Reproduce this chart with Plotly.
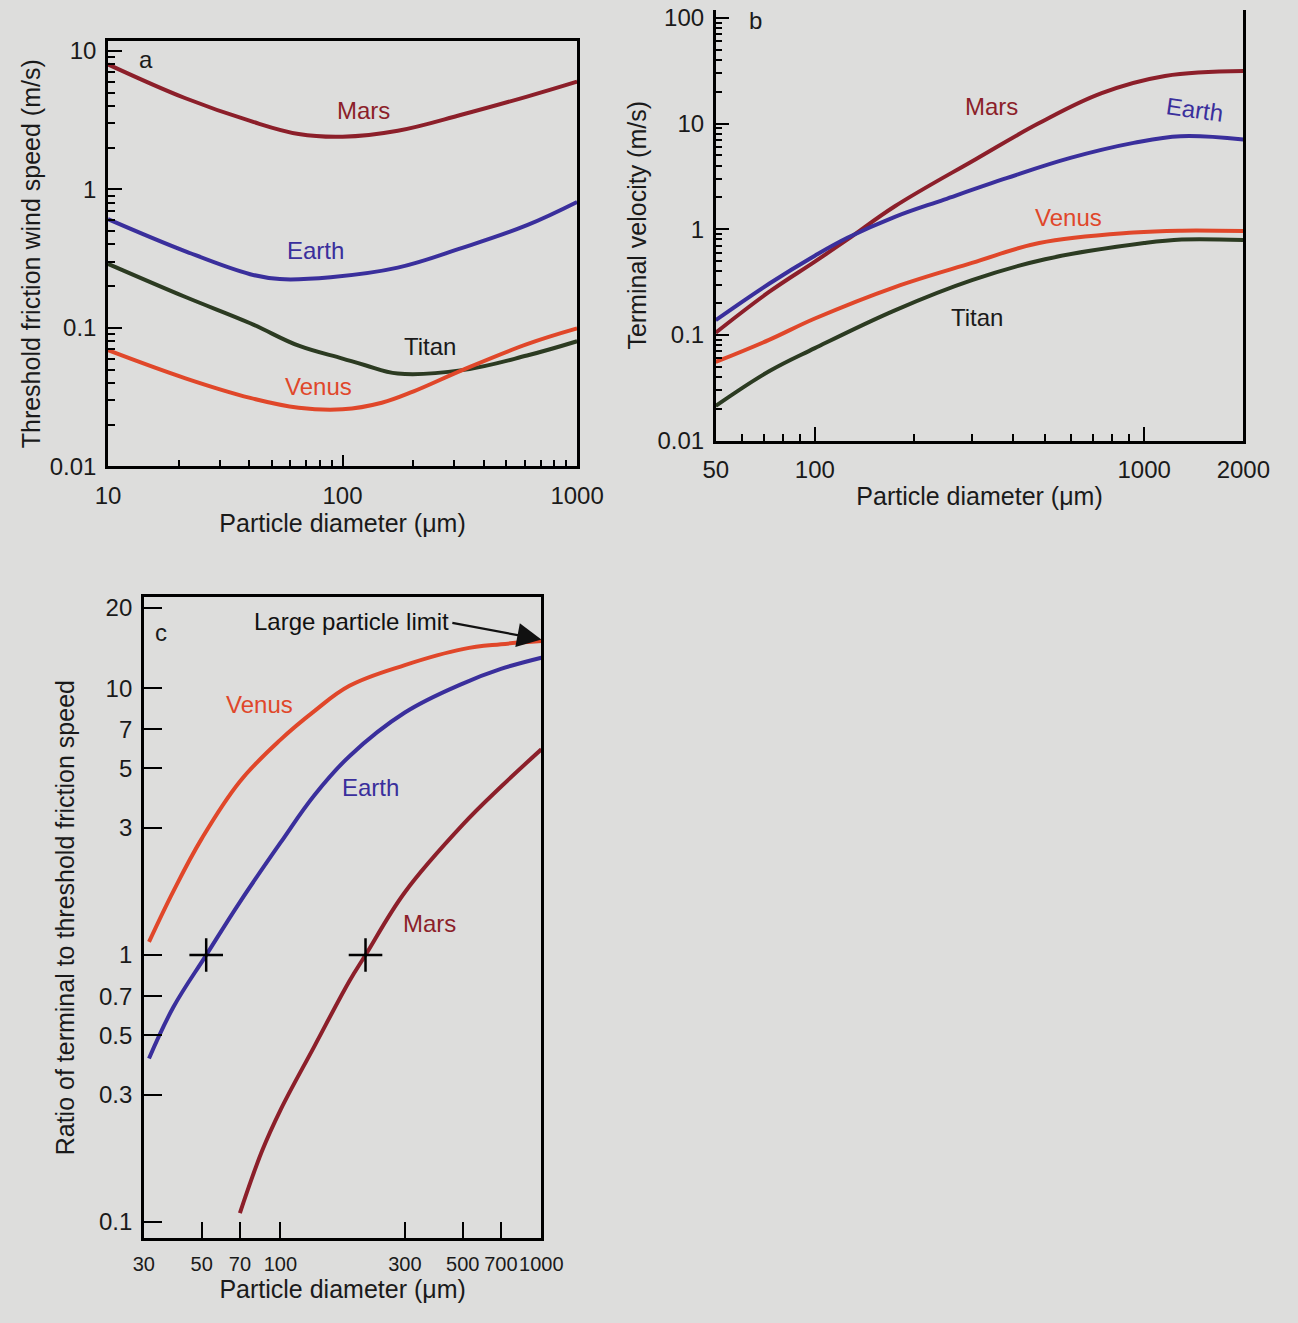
import numpy as np
import plotly.graph_objects as go

# ---------------- Panel a: threshold friction wind speed ----------------
a_mars_d = [10, 21.4, 40.4, 65, 100, 172, 324, 612, 1000]
a_mars_u = [8.0, 4.55, 3.12, 2.51, 2.4, 2.65, 3.47, 4.68, 6.0]
a_earth_d = [10, 21.4, 40.4, 54, 89, 172, 324, 612, 1000]
a_earth_u = [0.61, 0.357, 0.244, 0.225, 0.232, 0.272, 0.378, 0.551, 0.81]
a_titan_d = [10, 21.4, 40.4, 65, 100, 125, 172, 324, 612, 1000]
a_titan_u = [0.29, 0.167, 0.108, 0.0743, 0.060, 0.0537, 0.0468, 0.0495, 0.0631, 0.080]
a_venus_d = [10, 21.4, 40.4, 65, 100, 147, 201, 324, 612, 1000]
a_venus_u = [0.069, 0.0432, 0.0312, 0.0265, 0.0258, 0.0288, 0.0348, 0.0495, 0.0762, 0.099]

# ---------------- Panel b: terminal velocity ----------------
b_mars_d = [50, 72.6, 100, 126, 175, 308, 480, 743, 1157, 2000]
b_mars_v = [0.105, 0.255, 0.494, 0.805, 1.65, 4.6, 10.1, 19.4, 28.2, 31.4]
b_earth_d = [50, 72.6, 100, 126, 175, 247, 384, 597, 929, 1290, 2000]
b_earth_v = [0.138, 0.305, 0.562, 0.834, 1.31, 1.91, 3.06, 4.73, 6.56, 7.6, 7.07]
b_venus_d = [50, 72.6, 100, 175, 300, 480, 929, 1300, 2000]
b_venus_v = [0.0555, 0.0898, 0.143, 0.284, 0.48, 0.74, 0.93, 0.97, 0.96]
b_titan_d = [50, 72.6, 100, 175, 300, 500, 1000, 1300, 2000]
b_titan_v = [0.0213, 0.0453, 0.075, 0.171, 0.33, 0.52, 0.74, 0.80, 0.79]

# ---------------- Panel c: ratio terminal / threshold ----------------
c_venus_d = [31.4, 39, 50, 70, 100, 135, 184, 300, 500, 700, 1000]
c_venus_r = [1.12, 1.74, 2.73, 4.47, 6.4, 8.2, 10.2, 12.2, 14.0, 14.6, 15.0]
c_earth_d = [31.4, 39, 52, 70, 100, 135, 184, 300, 500, 700, 1000]
c_earth_r = [0.41, 0.64, 1.0, 1.58, 2.63, 3.97, 5.56, 8.1, 10.4, 11.8, 13.0]
c_mars_d = [70, 85, 100, 135, 184, 212, 300, 500, 700, 1000]
c_mars_r = [0.108, 0.184, 0.262, 0.455, 0.80, 1.0, 1.72, 3.08, 4.27, 5.9]
c_cross_d = [52, 212]
c_cross_r = [1, 1]
c_limit = 15.2

# tick labels
a_xticks = [10, 100, 1000]
a_yticks = [0.01, 0.1, 1, 10]
b_xticks = [50, 100, 1000, 2000]
b_yticks = [0.01, 0.1, 1, 10, 100]
c_xticks = [30, 50, 70, 100, 300, 500, 700, 1000]
c_yticks = [0.1, 0.3, 0.5, 0.7, 1, 3, 5, 7, 10, 20]

MARS = "#8c1f2a"
EARTH = "#3a2f9c"
TITAN = "#2c3b22"
VENUS = "#e0472a"
FONT = "Liberation Sans, Arial, sans-serif"
BG = "#dddddc"
INK = "#1a1a1a"

fig = go.Figure()


def line(x, y, color, xa, ya):
    fig.add_trace(go.Scatter(x=x, y=y, mode="lines",
                             line=dict(color=color, width=4, shape="spline", smoothing=1.1),
                             xaxis=xa, yaxis=ya, showlegend=False, hoverinfo="skip"))


line(a_mars_d, a_mars_u, MARS, "x", "y")
line(a_earth_d, a_earth_u, EARTH, "x", "y")
line(a_titan_d, a_titan_u, TITAN, "x", "y")
line(a_venus_d, a_venus_u, VENUS, "x", "y")

line(b_mars_d, b_mars_v, MARS, "x2", "y2")
line(b_earth_d, b_earth_v, EARTH, "x2", "y2")
line(b_venus_d, b_venus_v, VENUS, "x2", "y2")
line(b_titan_d, b_titan_v, TITAN, "x2", "y2")

line(c_venus_d, c_venus_r, VENUS, "x3", "y3")
line(c_earth_d, c_earth_r, EARTH, "x3", "y3")
line(c_mars_d, c_mars_r, MARS, "x3", "y3")
fig.add_trace(go.Scatter(x=c_cross_d, y=c_cross_r, mode="markers",
                         marker=dict(symbol="cross-thin", size=24, line=dict(color="black", width=2.5)),
                         xaxis="x3", yaxis="y3", showlegend=False, hoverinfo="skip"))


def minor_vals(lo, hi):
    out = []
    for dec in range(lo, hi):
        for k in range(2, 10):
            out.append(k * 10 ** dec)
    return out


def fmt(v):
    return "%g" % v


common = dict(type="log", showgrid=False, zeroline=False, showline=True, linecolor="black", linewidth=2.5,
              ticks="inside", tickcolor="black", tickwidth=2, tickangle=0,
              tickfont=dict(family=FONT, size=24, color=INK),
              title_font=dict(family=FONT, size=25, color=INK), tickmode="array")

layout = dict(
    width=1298, height=1323, paper_bgcolor=BG, plot_bgcolor=BG,
    margin=dict(l=0, r=0, t=0, b=0), font=dict(family=FONT),
    xaxis=dict(common, domain=[0.0755, 0.4484], range=[1, 3], anchor="y", mirror=True,
               tickvals=a_xticks, ticktext=[fmt(v) for v in a_xticks], ticklen=12, ticklabelstandoff=6,
               minor=dict(tickmode="array", tickvals=minor_vals(1, 3), ticks="inside", ticklen=7,
                          tickwidth=2, tickcolor="black"),
               title=dict(text="Particle diameter (μm)", standoff=6)),
    yaxis=dict(common, domain=[0.647, 0.973], range=[-2, 1.07], anchor="x", mirror=True,
               tickvals=a_yticks, ticktext=[fmt(v) for v in a_yticks], ticklen=14, ticklabelstandoff=4,
               minor=dict(tickmode="array", tickvals=minor_vals(-2, 1), ticks="inside", ticklen=7,
                          tickwidth=2, tickcolor="black"),
               title=dict(text="Threshold friction wind speed (m/s)", standoff=2)),
    xaxis2=dict(common, domain=[0.5586, 0.978], range=[np.log10(50), np.log10(2000)], anchor="y2", mirror=False,
                tickvals=b_xticks, ticktext=[fmt(v) for v in b_xticks], ticklen=14, ticklabelstandoff=6,
                minor=dict(tickmode="array", tickvals=[60, 70, 80, 90] + minor_vals(2, 3), ticks="inside",
                           ticklen=7, tickwidth=2, tickcolor="black"),
                title=dict(text="Particle diameter (μm)", standoff=6)),
    yaxis2=dict(common, domain=[0.6667, 0.997], range=[-2, 2.075], anchor="x2", mirror=True,
                tickvals=b_yticks, ticktext=[fmt(v) for v in b_yticks], ticklen=14, ticklabelstandoff=4,
                minor=dict(tickmode="array", tickvals=minor_vals(-2, 2), ticks="inside", ticklen=7,
                           tickwidth=2, tickcolor="black"),
                title=dict(text="Terminal velocity (m/s)", standoff=4)),
    xaxis3=dict(common, domain=[0.104, 0.42], range=[np.log10(30), 3], anchor="y3", mirror=True,
                tickvals=c_xticks, ticktext=[fmt(v) for v in c_xticks], ticklen=16, ticklabelstandoff=6,
                tickfont=dict(family=FONT, size=20, color=INK),
                title=dict(text="Particle diameter (μm)", standoff=6)),
    yaxis3=dict(common, domain=[0.0552, 0.5465], range=[-1.06, 1.34], anchor="x3", mirror=True,
                tickvals=c_yticks, ticktext=[fmt(v) for v in c_yticks], ticklen=18, ticklabelstandoff=4,
                title=dict(text="Ratio of terminal to threshold friction speed", standoff=18)),
)
fig.update_layout(**layout)

L = np.log10
anns = []


def label(text, x, y, xa, ya, color, size=24, angle=0):
    anns.append(dict(text=text, x=L(x), y=L(y), xref=xa, yref=ya, showarrow=False,
                     font=dict(family=FONT, size=size, color=color), textangle=angle))


label("a", 14.5, 8.6, "x", "y", INK)
label("Mars", 123, 3.7, "x", "y", MARS)
label("Earth", 77, 0.36, "x", "y", EARTH)
label("Titan", 235, 0.073, "x", "y", INK)
label("Venus", 79, 0.038, "x", "y", VENUS)

label("b", 66, 95, "x2", "y2", INK)
label("Mars", 345, 14.5, "x2", "y2", MARS)
label("Earth", 1420, 13.5, "x2", "y2", EARTH, angle=8)
label("Venus", 590, 1.3, "x2", "y2", VENUS)
label("Titan", 310, 0.145, "x2", "y2", INK)

label("c", 35, 16.2, "x3", "y3", INK)
label("Venus", 83, 8.7, "x3", "y3", VENUS)
label("Earth", 222, 4.24, "x3", "y3", EARTH)
label("Mars", 372, 1.31, "x3", "y3", MARS)
label("Large particle limit", 188, 17.8, "x3", "y3", "#111111")

anns.append(dict(x=L(1000), y=L(c_limit), xref="x3", yref="y3", ax=L(450), ay=L(17.6), axref="x3", ayref="y3",
                 text="", showarrow=True, arrowhead=2, arrowsize=2.2, arrowwidth=2.2, arrowcolor="#111111"))

fig.update_layout(annotations=anns)
fig.write_html("out.html", config={"responsive": False, "displayModeBar": False},
               post_script="document.body.style.margin='0';document.body.style.overflow='hidden';"
                           "document.body.style.background='%s';" % BG)
